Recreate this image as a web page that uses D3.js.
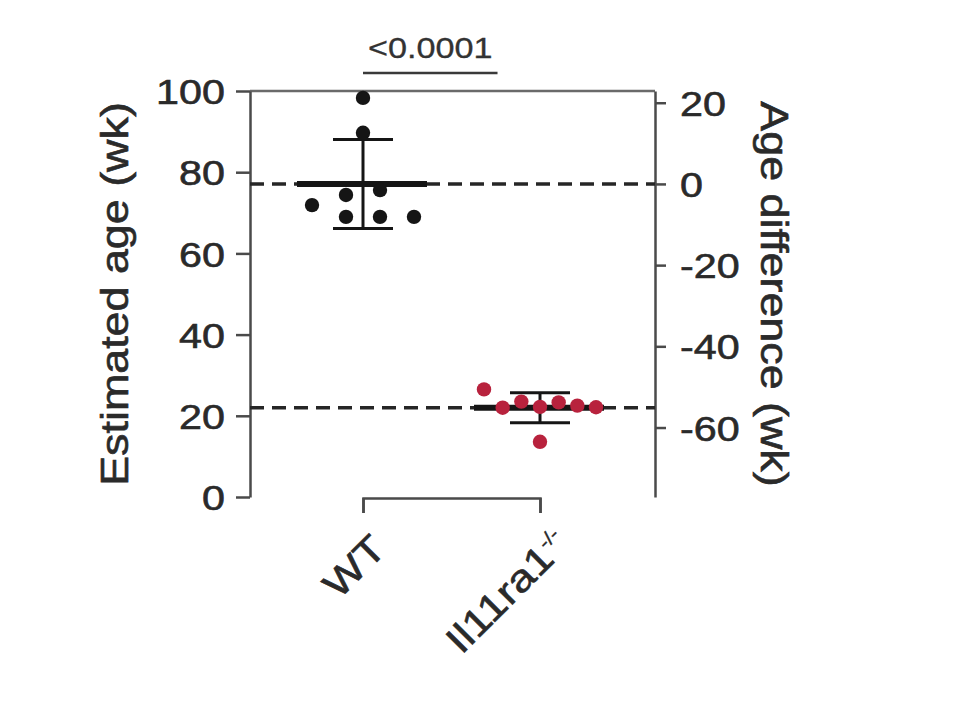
<!DOCTYPE html>
<html>
<head>
<meta charset="utf-8">
<script src="https://cdn.jsdelivr.net/npm/d3@7"></script>
<style>
body { margin: 0; background: #fff; }
text { font-family: "Liberation Sans", Arial, Helvetica, sans-serif; }
</style>
</head>
<body>
<div id="chart"></div>
<script>
// values
var groups = ["WT", "Il11ra1"]
var wtAges = [98.3, 89.7, 74.4, 71.9, 69.0, 75.6, 69.0, 69.0]
var koAges = [26.5, 22.0, 23.5, 22.2, 23.3, 22.5, 22.1, 13.6]
var leftTicks = [0, 20, 40, 60, 80, 100]
var rightTicks = [-60, -40, -20, 0, 20]
var pLabel = "<0.0001"

var width = 966, height = 720
var xL = 250, xR = 655
var stretchK = 1.18   // the figure's lettering is a bit wide
var axisColor = "#4a4a4a", inkColor = "#151515", koColor = "#b8223d", textColor = "#2a2a2a"

var svg = d3.select("#chart").append("svg")
    .attr("width", width)
    .attr("height", height)

/* Scales */
var y = d3.scaleLinear().domain([0, 100]).range([497, 91])
var x = d3.scalePoint().domain(groups).range([363, 540])
var wtMean = d3.mean(wtAges)
// right axis: difference from WT mean
var yR = d3.scaleLinear().domain([0 - wtMean, 100 - wtMean]).range([497, 91])

var series = [
    { name: groups[0], values: wtAges, color: inkColor },
    { name: groups[1], values: koAges, color: koColor }
]
series.forEach(function(s) {
    s.mean = d3.mean(s.values)
    s.sd = d3.deviation(s.values)
})

function wideText(sel) {
    sel.each(function() {
        var t = d3.select(this)
        var tx = +t.attr("x") || 0
        t.attr("x", 0).attr("transform", "translate(" + tx + ",0) scale(" + stretchK + ",1)")
    })
}

/* scatter layout: rows of close values spread sideways */
function spread(vals) {
    var idx = vals.map(function(v, i) { return i }).sort(function(a, b) { return vals[a] - vals[b] })
    var rows = [], cur = null
    idx.forEach(function(i) {
        if (!cur || vals[i] - cur.start >= 5) { cur = { start: vals[i], items: [] }; rows.push(cur) }
        cur.items.push(i)
    })
    var out = []
    rows.forEach(function(r) {
        r.items.sort(function(a, b) { return a - b })
        var n = r.items.length
        var sp = n > 1 ? Math.min(34, 112 / (n - 1)) : 0
        r.items.forEach(function(i, k) { out.push({ v: vals[i], dx: (k - (n - 1) / 2) * sp }) })
    })
    return out
}

/* top frame line */
svg.append("line")
    .attr("x1", xL).attr("x2", xR)
    .attr("y1", y(100)).attr("y2", y(100))
    .attr("stroke", "#6a6a6a").attr("stroke-width", 2.5)

/* Left axis */
var gl = svg.append("g")
    .attr("transform", "translate(" + xL + ",0)")
    .call(d3.axisLeft(y).tickValues(leftTicks).tickSize(14).tickSizeOuter(0).tickPadding(11))
gl.select(".domain").attr("stroke", axisColor).attr("stroke-width", 2.5)
gl.selectAll(".tick line").attr("stroke", axisColor).attr("stroke-width", 2.5)
gl.selectAll(".tick text").attr("font-size", 35).attr("fill", textColor).attr("dy", "0.36em")
    .attr("stroke", textColor).attr("stroke-width", 0.6)
    .attr("font-family", null).call(wideText)

/* Right axis */
var gr = svg.append("g")
    .attr("transform", "translate(" + xR + ",0)")
    .call(d3.axisRight(yR).tickValues(rightTicks).tickSize(11).tickSizeOuter(0).tickPadding(14)
        .tickFormat(function(d) { return String(d) }))
gr.select(".domain").attr("stroke", axisColor).attr("stroke-width", 2.5)
gr.selectAll(".tick line").attr("stroke", axisColor).attr("stroke-width", 2.5)
gr.selectAll(".tick text").attr("font-size", 35).attr("fill", textColor).attr("dy", "0.36em")
    .attr("stroke", textColor).attr("stroke-width", 0.6)
    .attr("font-family", null).call(wideText)

/* x axis bracket */
var gx = svg.append("g")
    .attr("transform", "translate(0," + (y(0) + 1) + ")")
    .call(d3.axisBottom(x).tickSize(15).tickSizeOuter(15).tickFormat(""))
gx.select(".domain").attr("stroke", axisColor).attr("stroke-width", 2.5)
gx.selectAll(".tick line").attr("stroke", axisColor).attr("stroke-width", 2.5)

/* Axis titles */
svg.append("text")
    .attr("transform", "translate(128," + y(50) + ") rotate(-90) scale(" + stretchK + ",1)")
    .attr("text-anchor", "middle")
    .attr("font-size", 38).attr("fill", textColor)
    .attr("stroke", textColor).attr("stroke-width", 0.6)
    .text("Estimated age (wk)")

svg.append("text")
    .attr("transform", "translate(761," + y(50) + ") rotate(90) scale(" + stretchK + ",1)")
    .attr("text-anchor", "middle")
    .attr("font-size", 38).attr("fill", textColor)
    .attr("stroke", textColor).attr("stroke-width", 0.6)
    .text("Age difference (wk)")

/* group labels, slanted */
svg.append("text")
    .attr("transform", "translate(" + (x(groups[0]) + 25) + "," + (y(0) + 54) + ") rotate(-45) scale(" + stretchK + ",1)")
    .attr("text-anchor", "end").attr("font-size", 38).attr("fill", textColor)
    .attr("stroke", textColor).attr("stroke-width", 0.6)
    .text(groups[0])
var lab1 = svg.append("text")
    .attr("transform", "translate(" + (x(groups[1]) + 31) + "," + (y(0) + 49) + ") rotate(-45) scale(" + stretchK + ",1)")
    .attr("text-anchor", "end").attr("font-size", 38).attr("fill", textColor)
    .attr("stroke", textColor).attr("stroke-width", 0.6)
lab1.append("tspan").text(groups[1])
lab1.append("tspan").attr("font-size", 19).attr("dy", -15).attr("stroke-width", 0.3).text("-/-")

/* dashed reference lines at group means */
svg.selectAll(".ref")
    .data(series).enter()
    .append("line")
    .attr("class", "ref")
    .attr("x1", xL).attr("x2", xR)
    .attr("y1", function(d) { return y(d.mean) })
    .attr("y2", function(d) { return y(d.mean) })
    .attr("stroke", "#262626").attr("stroke-width", 3.5)
    .attr("stroke-dasharray", "14,8")

/* error bars (mean +/- SD) */
var eb = svg.selectAll(".err").data(series).enter().append("g").attr("class", "err")
    .attr("stroke", inkColor).attr("stroke-width", 3)
eb.append("line")
    .attr("x1", function(d) { return x(d.name) }).attr("x2", function(d) { return x(d.name) })
    .attr("y1", function(d) { return y(d.mean + d.sd) }).attr("y2", function(d) { return y(d.mean - d.sd) })
eb.append("line")
    .attr("x1", function(d) { return x(d.name) - 30 }).attr("x2", function(d) { return x(d.name) + 30 })
    .attr("y1", function(d) { return y(d.mean + d.sd) }).attr("y2", function(d) { return y(d.mean + d.sd) })
eb.append("line")
    .attr("x1", function(d) { return x(d.name) - 30 }).attr("x2", function(d) { return x(d.name) + 30 })
    .attr("y1", function(d) { return y(d.mean - d.sd) }).attr("y2", function(d) { return y(d.mean - d.sd) })
eb.append("line")
    .attr("stroke-width", 6)
    .attr("x1", function(d) { return x(d.name) - 66 }).attr("x2", function(d) { return x(d.name) + 64 })
    .attr("y1", function(d) { return y(d.mean) }).attr("y2", function(d) { return y(d.mean) })

/* dots */
series.forEach(function(s) {
    svg.append("g").selectAll("circle")
        .data(spread(s.values)).enter()
        .append("circle")
        .attr("cx", function(d) { return x(s.name) + d.dx })
        .attr("cy", function(d) { return y(d.v) })
        .attr("r", 7.2)
        .attr("fill", s.color)
})

/* significance */
var x0 = x(groups[0]), x1 = x0 + 0.76 * (x(groups[1]) - x0)
svg.append("line")
    .attr("x1", x0).attr("x2", x1)
    .attr("y1", 73).attr("y2", 73)
    .attr("stroke", "#3a3a3a").attr("stroke-width", 2.5)
svg.append("text")
    .attr("transform", "translate(" + ((x0 + x1) / 2) + ",58) scale(" + stretchK + ",1)")
    .attr("text-anchor", "middle")
    .attr("font-size", 29).attr("fill", "#333")
    .attr("stroke", "#333").attr("stroke-width", 0.3)
    .text(pLabel)
</script>
</body>
</html>
